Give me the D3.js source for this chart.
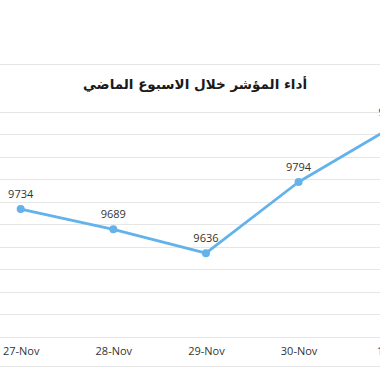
<!DOCTYPE html>
<html>
<head>
<meta charset="utf-8">
<script src="https://cdn.jsdelivr.net/npm/d3@7"></script>
<style>
  body { margin: 0; background: #fff; }
  svg { display: block; }
</style>
</head>
<body>
<div id="chart"></div>
<script>
const days = ['27-Nov', '28-Nov', '29-Nov', '30-Nov', '1-Dec'];
const values = [9734, 9689, 9636, 9794, 9915];
const gridTicks = [9450, 9500, 9550, 9600, 9650, 9700, 9750, 9800, 9850, 9900, 9950, 10000];
const title = 'أداء المؤشر خلال الاسبوع الماضي';

const width = 380;
const height = 372;

const svg = d3.select('#chart')
  .append('svg')
  .attr('width', width)
  .attr('height', height);

const x = d3.scalePoint()
  .domain(days)
  .range([20.7, 391.2]);

const y = d3.scaleLinear()
  .domain([9450, 10000])
  .range([337, 89.2]);

// horizontal grid
svg.append('g')
  .selectAll('line')
  .data(gridTicks)
  .join('line')
    .attr('x1', 0)
    .attr('x2', width)
    .attr('y1', d => Math.round(y(d)) + 0.5)
    .attr('y2', d => Math.round(y(d)) + 0.5)
    .attr('stroke', '#e6e6e6')
    .attr('stroke-width', 1);

// frame lines top / bottom
svg.append('g')
  .selectAll('line')
  .data([64.5, 366.5])
  .join('line')
    .attr('x1', 0)
    .attr('x2', width)
    .attr('y1', d => d)
    .attr('y2', d => d)
    .attr('stroke', '#e6e6e6');

// title band
svg.append('rect')
  .attr('x', 0)
  .attr('y', 65)
  .attr('width', width)
  .attr('height', 46)
  .attr('fill', '#fff');

svg.append('text')
  .attr('x', 195)
  .attr('y', 89)
  .attr('text-anchor', 'middle')
  .attr('font-family', 'DejaVu Sans, sans-serif')
  .attr('font-weight', 'bold')
  .attr('font-size', 13.5)
  .attr('fill', '#1a1a1a')
  .attr('direction', 'rtl')
  .text(title);

const data = days.map((d, i) => ({ day: d, value: values[i] }));

const line = d3.line()
  .x(d => x(d.day))
  .y(d => y(d.value));

svg.append('path')
  .datum(data)
  .attr('fill', 'none')
  .attr('stroke', '#62b2ec')
  .attr('stroke-width', 2.8)
  .attr('stroke-linejoin', 'round')
  .attr('d', line);

svg.append('g')
  .selectAll('circle')
  .data(data)
  .join('circle')
    .attr('cx', d => x(d.day))
    .attr('cy', d => y(d.value))
    .attr('r', 4)
    .attr('fill', '#62b2ec');

svg.append('g')
  .attr('font-family', 'Open Sans, sans-serif')
  .attr('font-size', 11)
  .attr('fill', '#333')
  .attr('text-anchor', 'middle')
  .selectAll('text')
  .data(data)
  .join('text')
    .attr('x', d => x(d.day))
    .attr('y', d => y(d.value) - 11)
    .text(d => d.value);

// x axis labels
const xAxis = svg.append('g')
  .attr('transform', 'translate(0,337)')
  .call(d3.axisBottom(x).tickSize(0).tickPadding(10));
xAxis.select('.domain').remove();
xAxis.selectAll('text')
  .attr('font-family', 'Open Sans, sans-serif')
  .attr('font-size', 11)
  .attr('fill', '#333');
</script>
</body>
</html>
